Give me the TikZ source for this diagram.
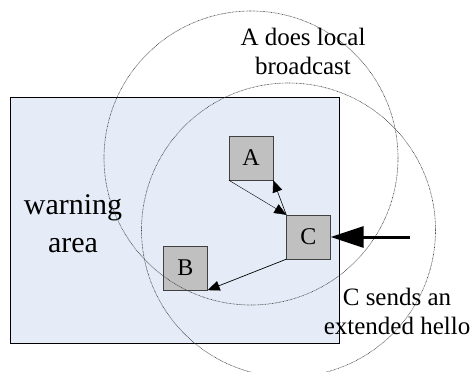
\documentclass[tikz,border=0pt]{standalone}
\usepackage{fontspec}
\setmainfont{Liberation Serif}
\usetikzlibrary{arrows.meta}
\definecolor{areablue}{RGB}{230,236,247}
\definecolor{boxgray}{RGB}{192,192,192}
\definecolor{rangegray}{RGB}{60,60,60}

\begin{document}
\begin{tikzpicture}[x=1pt,y=-1pt,
    nodebox/.style={draw=black!75,fill=boxgray,minimum size=44pt,inner sep=0pt,font=\fontsize{24}{28}\selectfont},
    msg/.style={-{Triangle[length=12pt,width=10pt]},black},
    txtlabel/.style={align=center,font=\fontsize{25}{29}\selectfont}]
    \useasboundingbox (0,0) rectangle (472,372);
    % warning area
    \draw[fill=areablue] (10,97) rectangle (339,343);
    \node[align=center,font=\fontsize{30}{38}\selectfont] (warn) at (73,224) {warning\\area};
    % nodes
    \node[nodebox] (A) at (251,158) {A};
    \node[nodebox] (C) at (308.5,237) {C};
    \node[nodebox] (B) at (185.5,268) {B};
    % transmission ranges
    \foreach \cx/\cy in {251/158,288.5/230}{
        \draw[rangegray,line width=0.6pt,dash pattern=on 0.7pt off 0.7pt] (\cx,\cy) circle[radius=147pt];
    }
    % messages
    \draw[msg,line width=0.4pt] (A.south west) -- (C.north west);
    \draw[msg,line width=0.6pt] (C.north west) -- (A.south east);
    \draw[msg,line width=0.7pt] (C.south west) -- (B.south east);
    \coordinate (hello) at (410,237);
    \draw[line width=3pt,-{Triangle[length=33pt,width=21pt]}] (hello) -- (C.east);
    % labels
    \node[txtlabel] (bcast) at (303,51) {A does local\\broadcast};
    \node[txtlabel] (ext) at (397,311) {C sends an\\extended hello};
\end{tikzpicture}
\end{document}
